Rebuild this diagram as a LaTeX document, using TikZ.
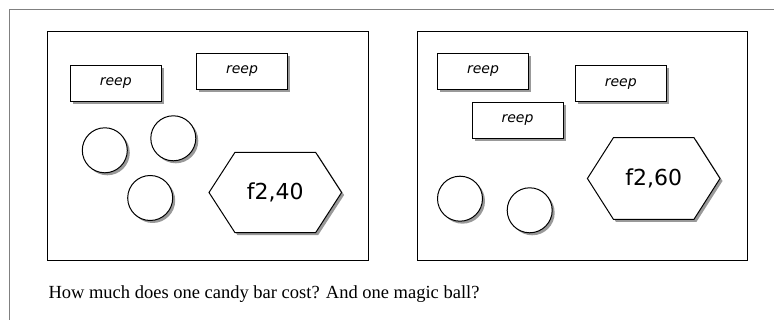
\documentclass[tikz,border=0pt]{standalone}
\usepackage{fontspec}
\setmainfont{Liberation Serif}
\newfontfamily\handfont{DejaVu Sans}
\usetikzlibrary{shadows}

\tikzset{
  dropshade/.style={drop shadow={shadow xshift=2.5pt,shadow yshift=-2.5pt,fill=gray!80,opacity=1}},
  card/.style={draw,fill=white,line width=1pt,minimum width=91pt,minimum height=36pt,inner sep=0pt,dropshade,
    font=\handfont\itshape\fontsize{14}{14}\selectfont},
  ball/.style={draw,circle,fill=white,line width=1pt,minimum size=45pt,inner sep=0pt,dropshade},
  price/.style={font=\handfont\fontsize{22}{22}\selectfont,inner sep=0pt},
  panel/.style={draw,line width=1pt}
}

\begin{document}
\begin{tikzpicture}[x=1pt,y=-1pt]
    \useasboundingbox (0,0) rectangle (774,320);
    % outer frame
    \draw[gray,line width=1.2pt] (9.5,320) -- (9.5,9.5) -- (774,9.5);

    % left panel
    \draw[panel] (47.3,31.7) rectangle (368,260.7);
    \node[card] (bar1a) at (115.8,83.3) {reep};
    \node[card] (bar1b) at (242,71.3) {reep};
    \node[ball] (ball1a) at (104.8,150.3) {};
    \node[ball] (ball1b) at (173.3,138.3) {};
    \node[ball] (ball1c) at (150.2,198) {};
    \draw[fill=white,line width=1pt,dropshade] (275.3,192.5) ++(-66.3,0) -- ++(26,-40.2) -- ++(80.6,0)
        -- ++(26,40.2) -- ++(-26,40.2) -- ++(-80.6,0) -- cycle;
    \node[price] (cost1) at (275.3,192.5) {f2,40};

    % right panel
    \draw[panel] (417,31.7) rectangle (747,260.7);
    \node[card] (bar2a) at (483,71.3) {reep};
    \node[card] (bar2b) at (620.8,83.7) {reep};
    \node[card] (bar2c) at (517.5,120.3) {reep};
    \node[ball] (ball2a) at (460,198.7) {};
    \node[ball] (ball2b) at (529.7,210.3) {};
    \draw[fill=white,line width=1pt,dropshade] (653.7,178.5) ++(-66.3,0) -- ++(26,-40.8) -- ++(80.6,0)
        -- ++(26,40.8) -- ++(-26,40.8) -- ++(-80.6,0) -- cycle;
    \node[price] (cost2) at (653.7,178.5) {f2,60};

    \node[anchor=base west,inner sep=0pt,font=\fontsize{18.5}{20}\selectfont] (question) at (48.3,298.3)
        {How much does one candy bar cost? And one magic ball?};
\end{tikzpicture}
\end{document}
